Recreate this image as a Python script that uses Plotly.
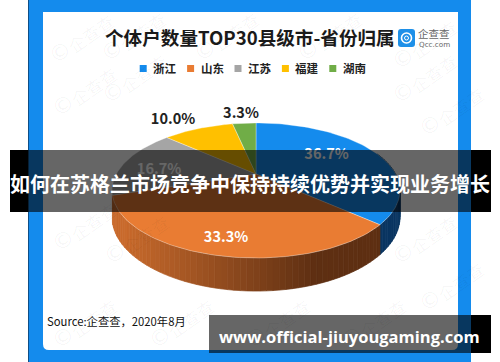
import numpy as np
import plotly.graph_objects as go

title = "个体户数量TOP30县级市-省份归属"
categories = ["浙江", "山东", "江苏", "福建", "湖南"]
counts = [11, 10, 5, 3, 1]
colors = ["#148BED", "#E97C33", "#A5A5A5", "#FFC000", "#70AD47"]
source = "Source:企查查，2020年8月"
banner = "如何在苏格兰市场竞争中保持持续优势并实现业务增长"
site = "www.official-jiuyougaming.com"

CJK = "Noto Sans CJK SC"
CX, CY, R, H, P, D = 256, 174, 139.6, 63.5, 0.244, 25


def rim(theta_deg, depth=0.0):
    t = np.radians(theta_deg)
    u, v = np.sin(t), -np.cos(t)
    s = 1 / (1 - P * v)
    return CX + R * u * s, CY + H * v * s + depth * s


def lerp(a, b, f):
    f = min(max(f, 0), 1)
    return "#%02x%02x%02x" % tuple(int(round(a[i] + (b[i] - a[i]) * f)) for i in range(3))


total = sum(counts)
edges = np.concatenate([[0], np.cumsum(counts)]) / total * 360
fig = go.Figure()


def poly(xs, ys, fill, line=None, lw=0.0):
    fig.add_trace(go.Scatter(x=xs, y=ys, mode="lines", fill="toself", fillcolor=fill,
                             line=dict(color=line or fill, width=lw), hoverinfo="skip",
                             showlegend=False))


# side walls (only the two front slices are visible)
def wall(a0, a1, col_fn):
    steps = max(int((a1 - a0) / 2), 1)
    grid = np.linspace(a0, a1, steps + 1)
    for g0, g1 in zip(grid[:-1], grid[1:]):
        x0, y0 = rim(g0)
        x1, y1 = rim(g1)
        x2, y2 = rim(g1, D)
        x3, y3 = rim(g0, D)
        col = col_fn((x0 + x1) / 2)
        poly([x0, x1, x2, x3, x0], [y0, y1, y2, y3, y0], col, col, 0.7)


wall(70, edges[1], lambda x: "#0A3561")
wall(edges[1], edges[2], lambda x: lerp((200, 106, 44), (94, 47, 18), (x - 125) / 190))

# top faces
for i, c in enumerate(colors):
    a = np.linspace(edges[i], edges[i + 1], 80)
    px, py = rim(a)
    poly(np.concatenate([[CX], px, [CX]]), np.concatenate([[CY], py, [CY]]), c,
         "rgba(255,255,255,0.55)", 0.6)

# value labels drawn through the traces layer (so the banner dims them)
pct = [f"{c / total * 100:.1f}%" for c in counts]
label_pos = [(326.5, 155), (226, 238), (159, 170), (173, 120), (241, 114)]
label_col = ["white", "white", "white", "#222222", "#222222"]
for (lx, ly), t, col in zip(label_pos, pct, label_col):
    fig.add_trace(go.Scatter(x=[lx], y=[ly], mode="text", text=[t], hoverinfo="skip", showlegend=False,
                             textfont=dict(family=CJK, size=14.5, color=col, weight=600)))

# legend
for i, (name, c) in enumerate(zip(categories, colors)):
    lx = 143.2 + i * 47.4
    fig.add_trace(go.Scatter(x=[lx], y=[68.5], mode="markers", hoverinfo="skip", showlegend=False,
                             marker=dict(symbol="square", size=7, color=c)))
    fig.add_annotation(x=lx + 8, y=68.3, text=f"<b>{name}</b>", showarrow=False, xanchor="left",
                       font=dict(family=CJK, size=11.5, color="#222222"))

shapes = [
    dict(type="rect", x0=10, x1=491, y0=150, y1=212, fillcolor="black", line_width=0, layer="below"),
    dict(type="rect", x0=209, x1=491, y0=315, y1=353, fillcolor="black", line_width=0, layer="below"),
    dict(type="rect", x0=28, x1=471, y0=0, y1=362, fillcolor="#148BED", line_width=0, layer="below"),
    dict(type="rect", x0=28, x1=29, y0=0, y1=362, fillcolor="#0F4E86", line_width=0, layer="below"),
    dict(type="path", path="M43,12 L458,12 L458,344 Q458,350 452,350 L49,350 Q43,350 43,344 Z",
         fillcolor="white", line_width=0, layer="below"),
    # logo
    dict(type="path", path="M401,29 L412,29 Q415,29 415,32 L415,44 Q415,47 412,47 L401,47 Q398,47 398,44 L398,32 Q398,29 401,29 Z",
         fillcolor="#1E90E8", line_width=0, layer="below"),
    dict(type="circle", x0=401.5, x1=411.5, y0=33, y1=43, line=dict(color="white", width=1.6), layer="below"),
    dict(type="circle", x0=404.5, x1=408.5, y0=36, y1=40, line=dict(color="white", width=1), layer="below"),
    # translucent banners over everything
    dict(type="rect", x0=10, x1=491, y0=150, y1=212, fillcolor="rgba(0,0,0,0.6)", line_width=0, layer="above"),
    dict(type="rect", x0=209, x1=491, y0=315, y1=353, fillcolor="rgba(0,0,0,0.6)", line_width=0, layer="above"),
]

# faint watermark tiles on the free white areas
tiles = [(60, 52), (112, 50), (205, 50), (308, 50), (403, 58),
         (63, 105), (403, 92), (113, 92), (430, 125),
         (63, 240), (115, 253), (403, 253), (63, 337), (160, 337), (256, 337), (352, 337), (430, 300)]
for tx, ty in tiles:
    fig.add_annotation(x=tx, y=ty, text="©", showarrow=False, textangle=-35,
                       font=dict(family="DejaVu Sans", size=22, color="rgba(0,0,0,0.045)"))
    fig.add_annotation(x=tx + 30, y=ty - 19, text="企查查", showarrow=False, textangle=-35,
                       font=dict(family=CJK, size=17, color="rgba(0,0,0,0.04)"))

fig.add_annotation(x=249.5, y=36.5, text=f"<b>{title}</b>", showarrow=False,
                   font=dict(family=CJK, size=18.6, color="#1A1A1A"))
fig.add_annotation(x=434, y=33.5, text="企查查", showarrow=False,
                   font=dict(family=CJK, size=10.5, color="#666666"))
fig.add_annotation(x=434, y=44, text="Qcc.com", showarrow=False,
                   font=dict(family="DejaVu Sans", size=7.2, color="#666666"))
fig.add_annotation(x=45, y=321, text=source, showarrow=False, xanchor="left",
                   font=dict(family=CJK, size=11.3, color="#111111"))
fig.add_annotation(x=250, y=183, text=f"<b>{banner}</b>", showarrow=False,
                   font=dict(family=CJK, size=20, color="white"))
fig.add_annotation(x=349.5, y=336, text=f"<b>{site}</b>", showarrow=False,
                   font=dict(family="Open Sans", size=16.5, color="white"))

fig.update_layout(
    width=500, height=362, margin=dict(l=0, r=0, t=0, b=0), showlegend=False,
    paper_bgcolor="white", plot_bgcolor="white", shapes=shapes,
    xaxis=dict(range=[0, 500], visible=False, fixedrange=True),
    yaxis=dict(range=[362, 0], visible=False, fixedrange=True),
)
fig.write_html("out.html", config={"displayModeBar": False},
               post_script="document.body.style.margin='0';document.body.style.overflow='hidden';")
